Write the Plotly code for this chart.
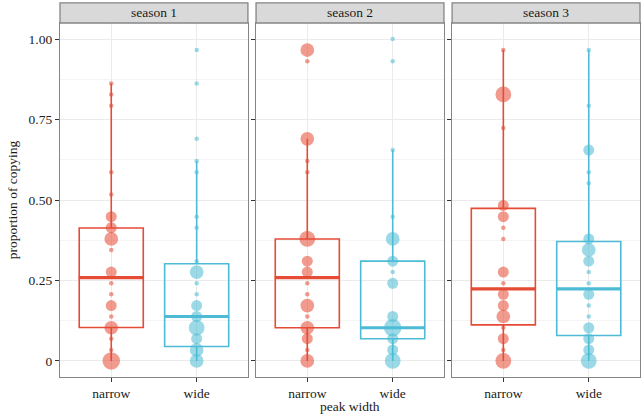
import plotly.graph_objects as go

# proportion of copying per season and peak width; n = number of players at that value
groups = ["narrow", "wide"]
seasons = ["season 1", "season 2", "season 3"]

s1_narrow_y = [0, 0.034, 0.069, 0.103, 0.138, 0.172, 0.207, 0.241, 0.276, 0.345, 0.379, 0.414, 0.448, 0.517, 0.586, 0.793, 0.828, 0.862]
s1_narrow_n = [5, 1, 1, 3, 1, 2, 1, 1, 2, 1, 3, 2, 2, 1, 1, 1, 1, 1]
s1_wide_y = [0, 0.034, 0.069, 0.103, 0.138, 0.172, 0.207, 0.241, 0.276, 0.310, 0.414, 0.448, 0.586, 0.621, 0.690, 0.862, 0.966]
s1_wide_n = [3, 3, 2, 4, 2, 2, 1, 1, 3, 1, 1, 1, 1, 1, 1, 1, 1]

s2_narrow_y = [0, 0.034, 0.069, 0.103, 0.138, 0.172, 0.207, 0.241, 0.276, 0.310, 0.379, 0.586, 0.621, 0.690, 0.931, 0.966]
s2_narrow_n = [3, 1, 2, 3, 1, 3, 1, 1, 2, 2, 4, 1, 1, 3, 1, 3]
s2_wide_y = [0, 0.034, 0.069, 0.103, 0.138, 0.241, 0.276, 0.310, 0.379, 0.448, 0.655, 0.931, 1.0]
s2_wide_n = [4, 2, 2, 5, 2, 2, 1, 2, 3, 1, 1, 1, 1]

s3_narrow_y = [0, 0.034, 0.069, 0.103, 0.138, 0.172, 0.207, 0.241, 0.276, 0.379, 0.414, 0.448, 0.483, 0.724, 0.828, 0.966]
s3_narrow_n = [4, 1, 2, 1, 3, 2, 2, 1, 2, 1, 1, 2, 2, 1, 4, 1]
s3_wide_y = [0, 0.034, 0.069, 0.103, 0.138, 0.172, 0.207, 0.241, 0.276, 0.310, 0.345, 0.379, 0.552, 0.586, 0.655, 0.793, 0.966]
s3_wide_n = [4, 2, 2, 2, 1, 1, 2, 1, 1, 2, 3, 2, 1, 1, 2, 1, 1]

# box stats: [narrow, wide] per season
box_q1 = [[0.104, 0.045], [0.103, 0.069], [0.112, 0.079]]
box_med = [[0.259, 0.138], [0.259, 0.103], [0.224, 0.224]]
box_q3 = [[0.413, 0.302], [0.379, 0.310], [0.474, 0.371]]
box_lo = [[0, 0], [0, 0], [0, 0]]
box_hi = [[0.862, 0.621], [0.690, 0.655], [0.966, 0.966]]

points = [
    [(s1_narrow_y, s1_narrow_n), (s1_wide_y, s1_wide_n)],
    [(s2_narrow_y, s2_narrow_n), (s2_wide_y, s2_wide_n)],
    [(s3_narrow_y, s3_narrow_n), (s3_wide_y, s3_wide_n)],
]

colors = {"narrow": "#E64B35", "wide": "#4DBBD5"}
point_colors = {"narrow": "rgba(230,75,53,0.8)", "wide": "rgba(77,187,213,0.8)"}
FONT = "Liberation Serif"
FS = 13.5


def diam(n):
    return 4.5 + 6.5 * (n - 1) ** 0.5


fig = go.Figure()
gap = 0.014
w = (1 - 2 * gap) / 3
for i, season in enumerate(seasons):
    xa = "x" if i == 0 else f"x{i + 1}"
    ya = "y" if i == 0 else f"y{i + 1}"
    for j, g in enumerate(groups):
        fig.add_trace(go.Box(
            x=[g], q1=[box_q1[i][j]], median=[box_med[i][j]], q3=[box_q3[i][j]],
            lowerfence=[box_lo[i][j]], upperfence=[box_hi[i][j]],
            width=0.75, whiskerwidth=0, boxpoints=False,
            fillcolor="rgba(0,0,0,0)", line=dict(color=colors[g], width=1.6),
            xaxis=xa, yaxis=ya, showlegend=False, hoverinfo="skip"))
        ys, ns = points[i][j]
        fig.add_trace(go.Scatter(
            x=[g] * len(ys), y=ys, mode="markers",
            marker=dict(size=[diam(n) for n in ns], color=point_colors[g], line=dict(width=0)),
            xaxis=xa, yaxis=ya, showlegend=False))
        # thick median bar like ggplot
        fig.add_trace(go.Scatter(
            x=[g], y=[box_med[i][j]], mode="markers",
            marker=dict(symbol="line-ew", size=46.5, line=dict(color=colors[g], width=3.2)),
            xaxis=xa, yaxis=ya, showlegend=False, hoverinfo="skip"))

    d0 = i * (w + gap)
    axis_common = dict(showline=True, mirror=True, linecolor="#858585", linewidth=1.3,
                       gridcolor="#ebebeb", gridwidth=1, zeroline=False,
                       ticks="outside", ticklen=4, tickcolor="#333333",
                       tickfont=dict(family=FONT, size=FS, color="#222222"))
    fig.update_layout({
        ("xaxis" if i == 0 else f"xaxis{i + 1}"): dict(
            domain=[d0, d0 + w], type="category", categoryorder="array",
            categoryarray=groups, range=[-0.6, 1.6], anchor=ya, **axis_common),
        ("yaxis" if i == 0 else f"yaxis{i + 1}"): dict(
            range=[-0.05, 1.05], anchor=xa, tickvals=[0, 0.25, 0.5, 0.75, 1.0],
            ticktext=["0", "0.25", "0.50", "0.75", "1.00"],
            showticklabels=(i == 0),
            minor=dict(tickvals=[0.125, 0.375, 0.625, 0.875], showgrid=True,
                       gridcolor="#f4f4f4", ticks=""),
            **axis_common),
    })
    # facet strip
    fig.add_shape(type="rect", xref=f"{xa} domain", yref=f"{ya} domain",
                  x0=0, x1=1, y0=1.0, y1=1.057,
                  fillcolor="#d9d9d9", line=dict(color="#858585", width=1.3))
    fig.add_annotation(text=season, xref=f"{xa} domain", yref=f"{ya} domain",
                       x=0.5, y=1.0285, yanchor="middle", showarrow=False,
                       font=dict(family=FONT, size=FS, color="#1a1a1a"))

fig.update_layout(
    width=643, height=416,
    margin=dict(l=60, r=3, t=23, b=39),
    plot_bgcolor="white", paper_bgcolor="white",
    boxmode="overlay",
    font=dict(family=FONT, size=FS, color="#1a1a1a"),
)
fig.update_layout(yaxis_title=dict(text="proportion of copying", standoff=7,
                                   font=dict(family=FONT, size=FS, color="#1a1a1a")))
fig.add_annotation(text="peak width", xref="paper", yref="paper", x=0.5, y=0,
                   yshift=-29, yanchor="middle", showarrow=False,
                   font=dict(family=FONT, size=FS, color="#1a1a1a"))

fig.write_html("out.html", config={"displayModeBar": False},
               post_script="document.body.style.margin='0px';")
